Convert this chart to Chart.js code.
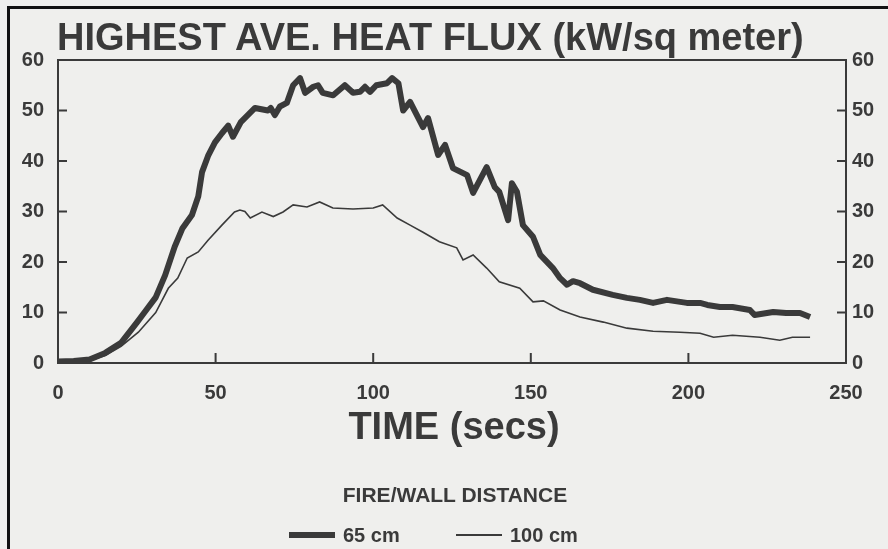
<!DOCTYPE html>
<html lang="en">
<head>
<meta charset="UTF-8">
<title>Highest ave. heat flux</title>
<script src="https://cdn.jsdelivr.net/npm/chart.js"></script>
<style>
  html, body { margin: 0; padding: 0; }
  body { width: 888px; height: 549px; background: #efefed; position: relative; overflow: hidden;
         font-family: "Liberation Sans", Arial, sans-serif; color: #3a3a3a; }
  .frame { position: absolute; left: 7px; top: 6px; right: -10px; bottom: -10px; border: 3px solid #111; }
  canvas { position: absolute; left: 0; top: 0; }
  .txt { position: absolute; font-weight: bold; white-space: nowrap; }
  #title { left: 57px; top: 18px; font-size: 38px; line-height: 38px; }
  #xtitle { left: 0; width: 908px; text-align: center; top: 407px; font-size: 38px; line-height: 38px; }
  #ltitle { left: 0; width: 910px; text-align: center; top: 484px; font-size: 21px; line-height: 21px; }
  .leg { top: 525px; font-size: 20px; line-height: 20px; display: flex; align-items: center; }
  .leg span.sw { display: inline-block; width: 46px; background: #3a3a3a; margin-right: 8px; }
</style>
</head>
<body>
<div class="frame"></div>
<canvas id="fluxChart" width="888" height="549"></canvas>
<div id="title" class="txt">HIGHEST AVE. HEAT FLUX (kW/sq meter)</div>
<div id="xtitle" class="txt">TIME (secs)</div>
<div id="ltitle" class="txt">FIRE/WALL DISTANCE</div>
<div class="txt leg" style="left:289px"><span class="sw" style="height:6px"></span>65 cm</div>
<div class="txt leg" style="left:456px"><span class="sw" style="height:2px"></span>100 cm</div>

<script>
// 65 cm (thick line)
const time65 = [0, 5, 10, 15, 20, 25, 28, 31, 34, 37, 39.5, 42.5, 44.5, 45.7, 47.6, 49.8, 52, 54, 55.5, 58,
  62.5, 66.6, 67.5, 68.8, 70.4, 72.6, 74.6, 76.8, 78.4, 81, 82.5, 84, 87.3, 91, 93.6, 95.8, 97.4, 99,
  101, 104.4, 106, 108, 109.5, 111.7, 115.8, 117.4, 120.6, 122.8, 125.3, 129.8, 131.7, 136, 138.6,
  140, 142.8, 144, 145.6, 147.5, 150.7, 153, 157, 159.3, 161.5, 163.4, 165.6, 169.7, 176, 180.5,
  184.6, 188.8, 193.2, 199.5, 203.7, 206, 210, 214, 219.5, 221, 226.9, 231, 235.4, 238.6];
const flux65 = [0.3, 0.4, 0.7, 2, 4, 8, 10.5, 13, 17.4, 23, 26.7, 29.3, 33, 37.8, 41, 43.7, 45.5, 47, 44.8, 47.7,
  50.5, 50, 50.5, 49.1, 50.8, 51.5, 55, 56.4, 53.5, 54.7, 55, 53.5, 53, 55, 53.5, 53.7, 54.7, 53.7,
  55, 55.4, 56.4, 55.4, 50, 51.7, 46.7, 48.5, 41.2, 43.2, 38.6, 37.2, 33.7, 38.8, 34.8,
  33.9, 28.3, 35.6, 33.9, 27.3, 25, 21.4, 18.8, 16.8, 15.5, 16.2, 15.8, 14.5, 13.5, 12.9,
  12.5, 11.9, 12.5, 11.9, 11.9, 11.5, 11.1, 11.1, 10.5, 9.5, 10.1, 9.9, 9.9, 9.1];

// 100 cm (thin line)
const time100 = [0, 5, 10, 15, 20, 25.5, 31, 35, 38, 41, 44.5, 47.6, 52, 56, 57.7, 59.3, 61, 64.7, 68.3,
  71.4, 74.6, 79, 83, 87.2, 93.6, 100, 103, 107.6, 111.7, 115.8, 121, 126.5, 128.5, 131.7, 136, 140,
  146.5, 150.7, 154, 159.3, 165.6, 173, 180.5, 188.8, 197.3, 203.7, 208, 214, 222.7, 229, 233, 238.6];
const flux100 = [0.2, 0.3, 0.5, 1.5, 3.3, 6.1, 10, 14.8, 16.8, 20.8, 22, 24.3, 27.3, 29.9, 30.3, 30, 28.7, 29.9, 29,
  29.9, 31.3, 30.9, 31.9, 30.7, 30.5, 30.7, 31.3, 28.7, 27.3, 25.9, 24, 22.8, 20.4, 21.4, 18.8, 16.1,
  14.8, 12.1, 12.3, 10.5, 9.1, 8.1, 6.9, 6.3, 6.1, 5.9, 5.1, 5.5, 5.1, 4.5, 5.1, 5.1];

const xTicks = [0, 50, 100, 150, 200, 250];
const yTicks = [0, 10, 20, 30, 40, 50, 60];

const ink = '#3a3a3a';
const toPoints = (xs, ys) => xs.map((x, i) => ({ x: x, y: ys[i] }));

// box top edge + inward tick marks
const frameTicks = {
    id: 'frameTicks',
    afterDraw(chart) {
        const ctx = chart.ctx, a = chart.chartArea;
        const sx = chart.scales.x, sy = chart.scales.y;
        ctx.save();
        ctx.strokeStyle = ink;
        ctx.lineWidth = 2;
        ctx.beginPath();
        ctx.moveTo(a.left - 1, a.top);
        ctx.lineTo(a.right + 1, a.top);
        xTicks.slice(1, -1).forEach(v => {
            const px = sx.getPixelForValue(v);
            ctx.moveTo(px, a.bottom);
            ctx.lineTo(px, a.bottom - 10);
        });
        yTicks.slice(1, -1).forEach(v => {
            const py = sy.getPixelForValue(v);
            ctx.moveTo(a.left, py);
            ctx.lineTo(a.left + 9, py);
            ctx.moveTo(a.right, py);
            ctx.lineTo(a.right - 9, py);
        });
        ctx.stroke();
        ctx.restore();
    }
};

const tickFont = { family: '"Liberation Sans", Arial, sans-serif', size: 20, weight: 'bold' };

new Chart(document.getElementById('fluxChart'), {
    type: 'line',
    data: {
        datasets: [
            {
                label: '65 cm',
                data: toPoints(time65, flux65),
                borderColor: ink,
                borderWidth: 6,
                borderJoinStyle: 'round',
                pointRadius: 0,
                tension: 0
            },
            {
                label: '100 cm',
                data: toPoints(time100, flux100),
                borderColor: ink,
                borderWidth: 1.6,
                pointRadius: 0,
                tension: 0
            }
        ]
    },
    options: {
        responsive: false,
        devicePixelRatio: 1,
        animation: false,
        layout: { padding: { top: 60, left: 0, right: 0, bottom: 0 } },
        plugins: { legend: { display: false }, tooltip: { enabled: false } },
        scales: {
            x: {
                type: 'linear', min: 0, max: 250,
                grid: { display: false, drawTicks: false },
                border: { display: true, color: ink, width: 2 },
                afterBuildTicks: s => { s.ticks = xTicks.map(v => ({ value: v })); },
                ticks: { color: ink, font: tickFont, padding: 18, maxRotation: 0 },
                afterFit: s => { s.height = 186; }
            },
            y: {
                position: 'left', min: 0, max: 60,
                grid: { display: false, drawTicks: false },
                border: { display: true, color: ink, width: 2 },
                afterBuildTicks: s => { s.ticks = yTicks.map(v => ({ value: v })); },
                ticks: { color: ink, font: tickFont, padding: 14 },
                afterFit: s => { s.width = 58; }
            },
            y2: {
                position: 'right', min: 0, max: 60,
                grid: { display: false, drawTicks: false },
                border: { display: true, color: ink, width: 2 },
                afterBuildTicks: s => { s.ticks = yTicks.map(v => ({ value: v })); },
                ticks: { color: ink, font: tickFont, padding: 6 },
                afterFit: s => { s.width = 42; }
            }
        }
    },
    plugins: [frameTicks]
});
</script>
</body>
</html>
